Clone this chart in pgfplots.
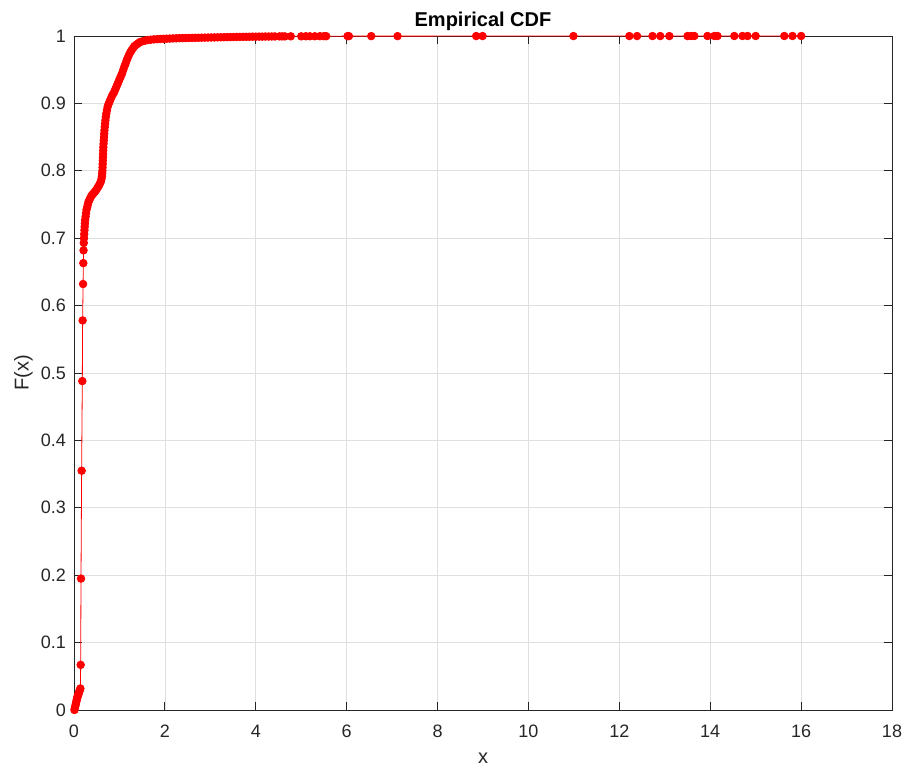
\documentclass[border=0pt]{standalone}
\usepackage{pgfplots}
\pgfplotsset{compat=1.18}
\usepackage{fontspec}
\setmainfont{Liberation Sans}
\definecolor{axisgray}{RGB}{38,38,38}
\definecolor{gridgray}{RGB}{223,223,223}

% Empirical CDF sample (sorted x, cumulative fraction F)
\pgfplotstableread{
x F
0.010 0.000
0.020 0.003
0.030 0.006
0.040 0.009
0.050 0.012
0.060 0.015
0.070 0.018
0.080 0.020
0.090 0.022
0.100 0.024
0.110 0.026
0.120 0.028
0.130 0.030
0.140 0.032
0.147 0.067
0.154 0.195
0.168 0.355
0.183 0.488
0.190 0.578
0.200 0.632
0.205 0.663
0.210 0.682
0.215 0.693
0.220 0.700
0.225 0.706
0.230 0.712
0.235 0.717
0.240 0.722
0.245 0.727
0.255 0.732
0.265 0.737
0.275 0.742
0.290 0.746
0.305 0.750
0.320 0.754
0.340 0.757
0.360 0.760
0.385 0.763
0.410 0.765
0.435 0.767
0.460 0.769
0.485 0.771
0.510 0.774
0.530 0.776
0.550 0.778
0.570 0.781
0.590 0.784
0.605 0.788
0.615 0.792
0.620 0.796
0.625 0.800
0.628 0.805
0.631 0.810
0.634 0.815
0.637 0.820
0.640 0.825
0.643 0.830
0.646 0.835
0.650 0.840
0.655 0.845
0.660 0.850
0.665 0.855
0.670 0.860
0.677 0.865
0.684 0.870
0.692 0.875
0.700 0.880
0.712 0.885
0.725 0.890
0.740 0.895
0.760 0.899
0.785 0.903
0.810 0.907
0.835 0.911
0.860 0.914
0.885 0.917
0.910 0.921
0.935 0.925
0.960 0.929
0.985 0.933
1.010 0.937
1.035 0.941
1.060 0.945
1.085 0.950
1.110 0.955
1.135 0.959
1.160 0.964
1.185 0.968
1.210 0.972
1.240 0.976
1.270 0.979
1.300 0.982
1.330 0.985
1.370 0.987
1.410 0.989
1.450 0.991
1.500 0.992
1.560 0.993
1.620 0.994
1.690 0.9945
1.760 0.9950
1.830 0.9953
1.900 0.9956
1.970 0.9958
2.040 0.9960
2.110 0.9962
2.180 0.9964
2.250 0.9966
2.320 0.9968
2.390 0.9969
2.460 0.9970
2.530 0.9971
2.600 0.9972
2.670 0.9973
2.740 0.9974
2.810 0.9975
2.880 0.9976
2.950 0.9977
3.020 0.9978
3.090 0.9979
3.160 0.9980
3.230 0.9981
3.300 0.9982
3.370 0.9983
3.440 0.9984
3.510 0.9985
3.580 0.9986
3.650 0.9987
3.720 0.9988
3.790 0.9988
3.860 0.9989
3.930 0.9990
4.000 0.9990
4.070 0.9991
4.140 0.9991
4.210 0.9992
4.280 0.9992
4.350 0.9993
4.420 0.9993
4.520 0.9994
4.580 0.9994
4.640 0.9994
4.770 0.9995
5.000 0.9995
5.100 0.9996
5.190 0.9996
5.300 0.9996
5.410 0.9997
5.500 0.9997
5.550 0.9997
6.020 0.9998
6.050 0.9998
6.540 0.9998
7.120 0.9998
8.850 0.9999
8.990 0.9999
10.990 0.9999
12.220 0.9999
12.390 0.9999
12.730 0.9999
12.900 0.9999
13.100 0.9999
13.500 0.9999
13.580 1.0000
13.650 1.0000
13.940 1.0000
14.090 1.0000
14.160 1.0000
14.530 1.0000
14.710 1.0000
14.820 1.0000
15.000 1.0000
15.630 1.0000
15.810 1.0000
16.000 1.0000
}\ecdf

\begin{document}
\begin{tikzpicture}
\begin{axis}[
  scale only axis,
  width=818pt, height=674pt,
  xmin=0, xmax=18, ymin=0, ymax=1,
  xtick={0,2,4,6,8,10,12,14,16,18},
  ytick={0,0.1,0.2,0.3,0.4,0.5,0.6,0.7,0.8,0.9,1},
  yticklabels={0,0.1,0.2,0.3,0.4,0.5,0.6,0.7,0.8,0.9,1},
  tick align=inside, tick pos=both,
  major tick length=8pt,
  grid=major,
  major grid style={gridgray, line width=0.7pt},
  axis line style={axisgray, line width=0.9pt},
  tick style={axisgray, line width=0.9pt},
  /pgf/number format/assume math mode=true,
  tick label style={font=\fontsize{18}{20}\selectfont, text=axisgray},
  xticklabel style={anchor=north, inner sep=0pt, yshift=-15pt},
  yticklabel style={anchor=east, inner sep=0pt, xshift=-8pt},
  title={Empirical CDF},
  title style={font=\fontsize{20}{22}\selectfont\bfseries, text=black,
               at={(0.5,1)}, anchor=base, inner sep=0pt, yshift=3pt},
  xlabel={x}, ylabel={F(x)},
  label style={font=\fontsize{20}{22}\selectfont, text=axisgray},
  xlabel style={at={(axis description cs:0.5,-0.0638)}, anchor=north, inner sep=0pt},
  ylabel style={at={(axis description cs:-0.0501,0.5)}, anchor=south, inner sep=0pt},
]
\addplot[red, line width=0.8pt, mark=*, mark size=3.8pt,
         mark options={fill=red, draw=red}] table[x=x, y=F] {\ecdf};
\end{axis}
\pgfresetboundingbox
\useasboundingbox ([shift={(-74pt,-59pt)}]current axis.south west)
  rectangle ([shift={(12pt,36pt)}]current axis.north east);
\end{tikzpicture}
\end{document}
